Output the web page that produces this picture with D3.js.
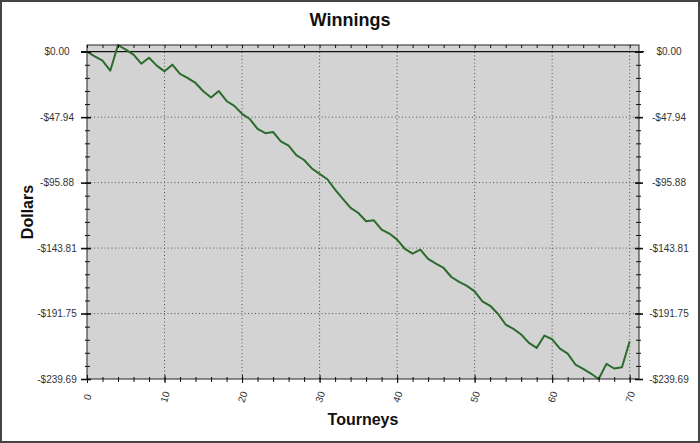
<!DOCTYPE html>
<html>
<head>
<meta charset="utf-8">
<script src="https://cdn.jsdelivr.net/npm/d3@7"></script>
<style>
  body { margin: 0; background: #fff; }
  text { font-family: Arial, "Liberation Sans", sans-serif; }
</style>
</head>
<body>
<svg id="chart" width="700" height="443"></svg>
<script>
// tourney number and running total of winnings
const tourneys = d3.range(0, 71);
const winnings = [
  0, -3.4, -6.6, -13.9, 4.9, 1.5, -2.2, -8.8, -4.4, -10.2,
  -14.4, -9.5, -16.2, -19.3, -22.9, -29.0, -33.6, -28.8, -36.1, -39.7,
  -45.5, -49.3, -56.6, -59.7, -58.8, -65.6, -68.8, -75.8, -79.3, -85.5,
  -89.5, -93.4, -101.0, -107.8, -114.4, -118.1, -124.2, -123.5, -130.3, -133.2,
  -137.6, -144.4, -147.9, -145.0, -151.8, -155.2, -158.4, -165.0, -168.5, -171.5,
  -175.5, -182.8, -186.1, -191.9, -199.8, -203.0, -207.1, -213.2, -216.9, -207.9,
  -210.6, -217.5, -221.1, -229.1, -232.3, -235.7, -239.69, -228.6, -232.0, -231.1,
  -212.0
];
const yTicks = [0, -47.94, -95.88, -143.81, -191.75, -239.69];
const yTickLabels = ['$0.00', '-$47.94', '-$95.88', '-$143.81', '-$191.75', '-$239.69'];
const xTicks = [0, 10, 20, 30, 40, 50, 60, 70];
const xMinorTicks = d3.range(0, 72, 2);
const X_MAX = 71.2;

const MARGIN = { left: 87, right: 61, top: 45, bottom: 64 };
const LINE_COLOR = '#2b6b2b';

const svg = d3.select('#chart');
const width = 700 - MARGIN.left - MARGIN.right;
const height = 443 - MARGIN.top - MARGIN.bottom;

// outer frame
svg.append('rect')
  .attr('x', 1)
  .attr('y', 1)
  .attr('width', 698)
  .attr('height', 441)
  .attr('fill', '#fff')
  .attr('stroke', '#444')
  .attr('stroke-width', 2);

const scaleX = d3.scaleLinear()
  .domain([0, X_MAX])
  .range([0, width]);

const scaleY = d3.scaleLinear()
  .domain([d3.min(winnings), d3.max(winnings)])
  .range([height, 0]);

// y minor ticks: 5 steps between each pair of labelled ticks
const yStep = (yTicks[1] - yTicks[0]) / 5;
const yMinorTicks = d3.range(0, 26).map(i => i * yStep);

const plot = svg.append('g')
  .attr('transform', 'translate(' + MARGIN.left + ',' + MARGIN.top + ')');

plot.append('rect')
  .attr('width', width)
  .attr('height', height)
  .attr('fill', '#d3d3d3');

// dotted grid
plot.append('g')
  .attr('class', 'grid-x')
  .selectAll('line')
  .data(xTicks.filter(d => d > 0))
  .enter()
  .append('line')
  .attr('x1', d => scaleX(d))
  .attr('x2', d => scaleX(d))
  .attr('y1', 0)
  .attr('y2', height)
  .attr('stroke', '#555')
  .attr('stroke-dasharray', '1,2.5');

plot.append('g')
  .attr('class', 'grid-y')
  .selectAll('line')
  .data(yTicks.slice(1, -1))
  .enter()
  .append('line')
  .attr('x1', 0)
  .attr('x2', width)
  .attr('y1', d => scaleY(d))
  .attr('y2', d => scaleY(d))
  .attr('stroke', '#555')
  .attr('stroke-dasharray', '1,2.5');

// solid zero line
plot.append('line')
  .attr('x1', -6)
  .attr('x2', width + 5)
  .attr('y1', scaleY(0))
  .attr('y2', scaleY(0))
  .attr('stroke', '#111')
  .attr('stroke-width', 1.3);

const line = d3.line()
  .x((d, i) => scaleX(tourneys[i]))
  .y(d => scaleY(d));

plot.append('path')
  .datum(winnings)
  .attr('d', line)
  .attr('fill', 'none')
  .attr('stroke', LINE_COLOR)
  .attr('stroke-width', 2)
  .attr('stroke-linejoin', 'round');

plot.append('rect')
  .attr('width', width)
  .attr('height', height)
  .attr('fill', 'none')
  .attr('stroke', '#222')
  .attr('stroke-width', 1);

// axes -- ticks cross the frame, so tick lines are reset after the call
function drawAxis(axis, transform, from, to, vertical) {
  const g = plot.append('g')
    .attr('transform', transform)
    .call(axis);
  g.select('.domain').remove();
  g.selectAll('.tick line')
    .attr(vertical ? 'x1' : 'y1', from)
    .attr(vertical ? 'x2' : 'y2', to)
    .attr('stroke', '#111');
  return g;
}

// minor ticks
drawAxis(d3.axisLeft(scaleY).tickValues(yMinorTicks).tickFormat(''),
  'translate(0,0)', -2, 3, true);
drawAxis(d3.axisRight(scaleY).tickValues(yMinorTicks).tickFormat(''),
  'translate(' + width + ',0)', -3, 2, true);
drawAxis(d3.axisBottom(scaleX).tickValues(xMinorTicks).tickFormat(''),
  'translate(0,' + height + ')', -2, 3, false);
drawAxis(d3.axisTop(scaleX).tickValues(xMinorTicks).tickFormat(''),
  'translate(0,0)', 0, 3, false);

// labelled ticks
const leftAxis = drawAxis(d3.axisLeft(scaleY).tickValues(yTicks).tickFormat((d, i) => yTickLabels[i]),
  'translate(0,0)', -6, 4, true);
const rightAxis = drawAxis(d3.axisRight(scaleY).tickValues(yTicks).tickFormat((d, i) => yTickLabels[i]),
  'translate(' + width + ',0)', -4, 4, true);
const bottomAxis = drawAxis(d3.axisBottom(scaleX).tickValues(xTicks),
  'translate(0,' + height + ')', -4, 4, false);

leftAxis.selectAll('.tick line').attr('stroke-width', 1.6);
rightAxis.selectAll('.tick line').attr('stroke-width', 1.6);

leftAxis.selectAll('text')
  .attr('x', -30)
  .attr('text-anchor', 'middle')
  .attr('font-size', '10px')
  .attr('fill', '#333');

rightAxis.selectAll('text')
  .attr('x', 30)
  .attr('text-anchor', 'middle')
  .attr('font-size', '10px')
  .attr('fill', '#333');

bottomAxis.selectAll('text')
  .attr('x', 0)
  .attr('y', 0)
  .attr('dy', '0.35em')
  .attr('transform', 'translate(0,18) rotate(-72)')
  .attr('text-anchor', 'middle')
  .attr('font-size', '10px')
  .attr('fill', '#333');

// titles
svg.append('text')
  .attr('x', 350)
  .attr('y', 26)
  .attr('text-anchor', 'middle')
  .attr('font-size', '18px')
  .attr('font-weight', 'bold')
  .attr('fill', '#111')
  .text('Winnings');

svg.append('text')
  .attr('x', MARGIN.left + width / 2)
  .attr('y', 425)
  .attr('text-anchor', 'middle')
  .attr('font-size', '16px')
  .attr('font-weight', 'bold')
  .attr('fill', '#111')
  .text('Tourneys');

svg.append('text')
  .attr('transform', 'translate(33,' + (MARGIN.top + height / 2) + ') rotate(-90)')
  .attr('text-anchor', 'middle')
  .attr('font-size', '16px')
  .attr('font-weight', 'bold')
  .attr('fill', '#111')
  .text('Dollars');
</script>
</body>
</html>
